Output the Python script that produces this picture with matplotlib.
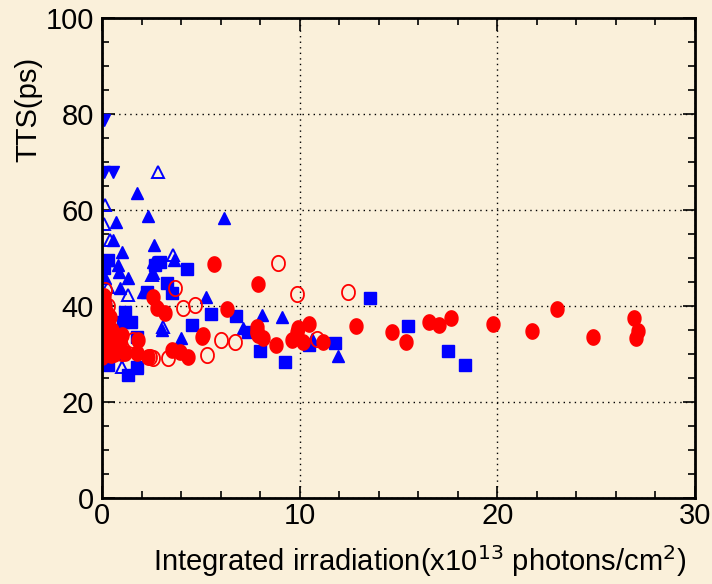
import numpy as np
import matplotlib.pyplot as plt
from matplotlib.ticker import MultipleLocator

# ---------------------------------------------------------------
# Data (x: integrated irradiation x1e13 photons/cm2, y: TTS in ps)
# ---------------------------------------------------------------
# blue, filled triangles down
bdn_x = [0.1, 0.1, 0.55]
bdn_y = [78.8, 67.9, 67.9]

# blue, filled triangles up
bup_x = [1.77, 2.33, 6.17, 0.7, 0.55, 2.63, 1.0, 3.64, 2.58, 0.8, 0.3, 0.86,
         0.15, 1.3, 0.9, 2.07, 2.58, 5.26, 3.03, 4.0, 7.13, 8.09, 9.1, 10.62,
         11.94, 1.77, 0.1, 0.2]
bup_y = [63.5, 58.75, 58.3, 57.5, 53.75, 52.7, 51.25, 49.6, 49.2, 48.5, 49.6, 47.0,
         45.8, 45.8, 43.75, 42.9, 46.9, 41.9, 35.0, 33.3, 35.4, 38.1, 37.7, 33.1,
         29.6, 27.1, 42.0, 38.0]

# blue, open triangles up
bop_x = [2.83, 0.15, 0.4, 3.59, 2.53, 1.3, 3.09, 1.0, 0.1, 0.3]
bop_y = [67.9, 61.0, 53.75, 50.6, 46.5, 42.3, 35.6, 27.3, 57.0, 44.0]

# blue, filled squares
bsq_x = [0.3, 2.93, 4.3, 2.68, 3.29, 3.54, 2.28, 4.55, 1.16, 1.47, 1.06, 1.77,
         0.3, 1.3, 1.77, 0.15, 5.51, 6.78, 7.38, 7.99, 9.26, 10.47, 11.79,
         13.56, 15.48, 17.5, 18.36, 0.1, 0.15, 0.6]
bsq_y = [49.6, 49.2, 47.7, 48.5, 44.8, 42.7, 42.9, 36.0, 38.7, 36.7, 36.7, 33.5,
         27.7, 25.6, 27.3, 32.3, 38.3, 38.0, 34.6, 30.6, 28.3, 31.9, 32.3,
         41.7, 35.8, 30.6, 27.7, 48.0, 40.0, 30.0]

# red, filled circles
rfc_x = [5.67, 7.89, 2.58, 2.78, 3.19, 0.15, 0.25, 0.4, 5.06, 1.82, 1.77, 1.16,
         0.65, 0.8, 2.33, 3.54, 3.95, 4.35, 0.0, 0.15, 6.32, 5.1, 7.84, 7.89,
         8.14, 9.91, 9.86, 10.47, 9.61, 10.17, 8.8, 11.18, 12.85, 14.67, 15.38,
         16.54, 17.05, 17.65, 19.78, 21.75, 23.0, 24.84, 26.9, 27.1, 27.0,
         0.1, 0.2, 0.3, 0.5, 0.1, 0.3, 0.6, 0.9, 1.0, 0.45]
rfc_y = [48.75, 44.6, 41.9, 39.6, 38.5, 40.2, 38.5, 37.7, 33.5, 32.9, 30.2, 30.2,
         32.9, 30.8, 29.4, 30.8, 30.4, 29.4, 29.4, 31.5, 39.4, 34.0, 35.6, 34.0,
         33.3, 35.4, 34.6, 36.25, 32.9, 32.5, 31.9, 32.5, 35.8, 34.6, 32.5,
         36.7, 36.0, 37.5, 36.25, 34.8, 39.4, 33.5, 37.5, 34.8, 33.3,
         42.0, 36.0, 34.0, 35.0, 33.0, 31.0, 30.0, 32.0, 34.0, 29.8]

# red, open circles
roc_x = [8.9, 9.86, 12.44, 0.15, 3.69, 4.1, 4.7, 1.57, 2.43, 2.58, 3.34, 5.31,
         1.0, 6.02, 6.73, 10.87, 7.84, 0.15, 0.1, 0.2, 0.5, 0.3]
roc_y = [49.0, 42.5, 43.0, 43.3, 43.75, 39.6, 40.2, 32.9, 29.4, 29.2, 29.2, 29.8,
         30.2, 32.9, 32.5, 33.1, 34.6, 35.0, 37.0, 30.0, 33.0, 40.0]

# ---------------------------------------------------------------
# Style
# ---------------------------------------------------------------
bg = '#FAF0DA'
blue = '#0000FF'
red = '#FF0000'
fnt = ['Liberation Sans', 'DejaVu Sans']

# slightly tall ellipse marker like the original
t = np.linspace(0, 2 * np.pi, 40)
ell = np.column_stack([0.85 * np.cos(t), np.sin(t)])

fig = plt.figure(figsize=(7.12, 5.84), dpi=100, facecolor=bg)
ax = fig.add_axes([0.1433, 0.1473, 0.8327, 0.8217], facecolor=bg)

ax.plot(bdn_x, bdn_y, 'v', color=blue, ms=9, ls='none')
ax.plot(bup_x, bup_y, '^', color=blue, ms=9, ls='none')
ax.plot(bop_x, bop_y, '^', mfc='none', mec=blue, mew=1.4, ms=9, ls='none')
ax.plot(bsq_x, bsq_y, 's', color=blue, ms=8, ls='none')
ax.plot(rfc_x, rfc_y, marker=ell, color=red, ms=11, ls='none')
ax.plot(roc_x, roc_y, marker=ell, mfc='none', mec=red, mew=1.3, ms=11, ls='none')

ax.set_xlim(0, 30)
ax.set_ylim(0, 100)
ax.xaxis.set_major_locator(MultipleLocator(10))
ax.xaxis.set_minor_locator(MultipleLocator(2))
ax.yaxis.set_major_locator(MultipleLocator(20))
ax.yaxis.set_minor_locator(MultipleLocator(5))

ax.grid(True, which='major', color='black', linestyle=(0, (1, 3)), linewidth=1.0)
ax.tick_params(which='both', direction='in', top=True, right=True, width=1.2,
               colors='black', labelsize=21)
ax.tick_params(which='major', length=9)
ax.tick_params(which='minor', length=5)
ax.tick_params(axis='x', pad=3)
ax.tick_params(axis='y', pad=6)
for s in ax.spines.values():
    s.set_linewidth(2)

for lab in ax.get_xticklabels() + ax.get_yticklabels():
    lab.set_family(fnt)

ax.set_xlabel(r'Integrated irradiation(x10$^{13}$ photons/cm$^{2}$)',
              family=fnt, fontsize=21)
ax.xaxis.set_label_coords(0.536, -0.095)
ax.set_ylabel('TTS(ps)', family=fnt, fontsize=21)
ax.yaxis.set_label_coords(-0.1, 0.81)

fig.savefig('out.png', dpi=100, facecolor=bg)
